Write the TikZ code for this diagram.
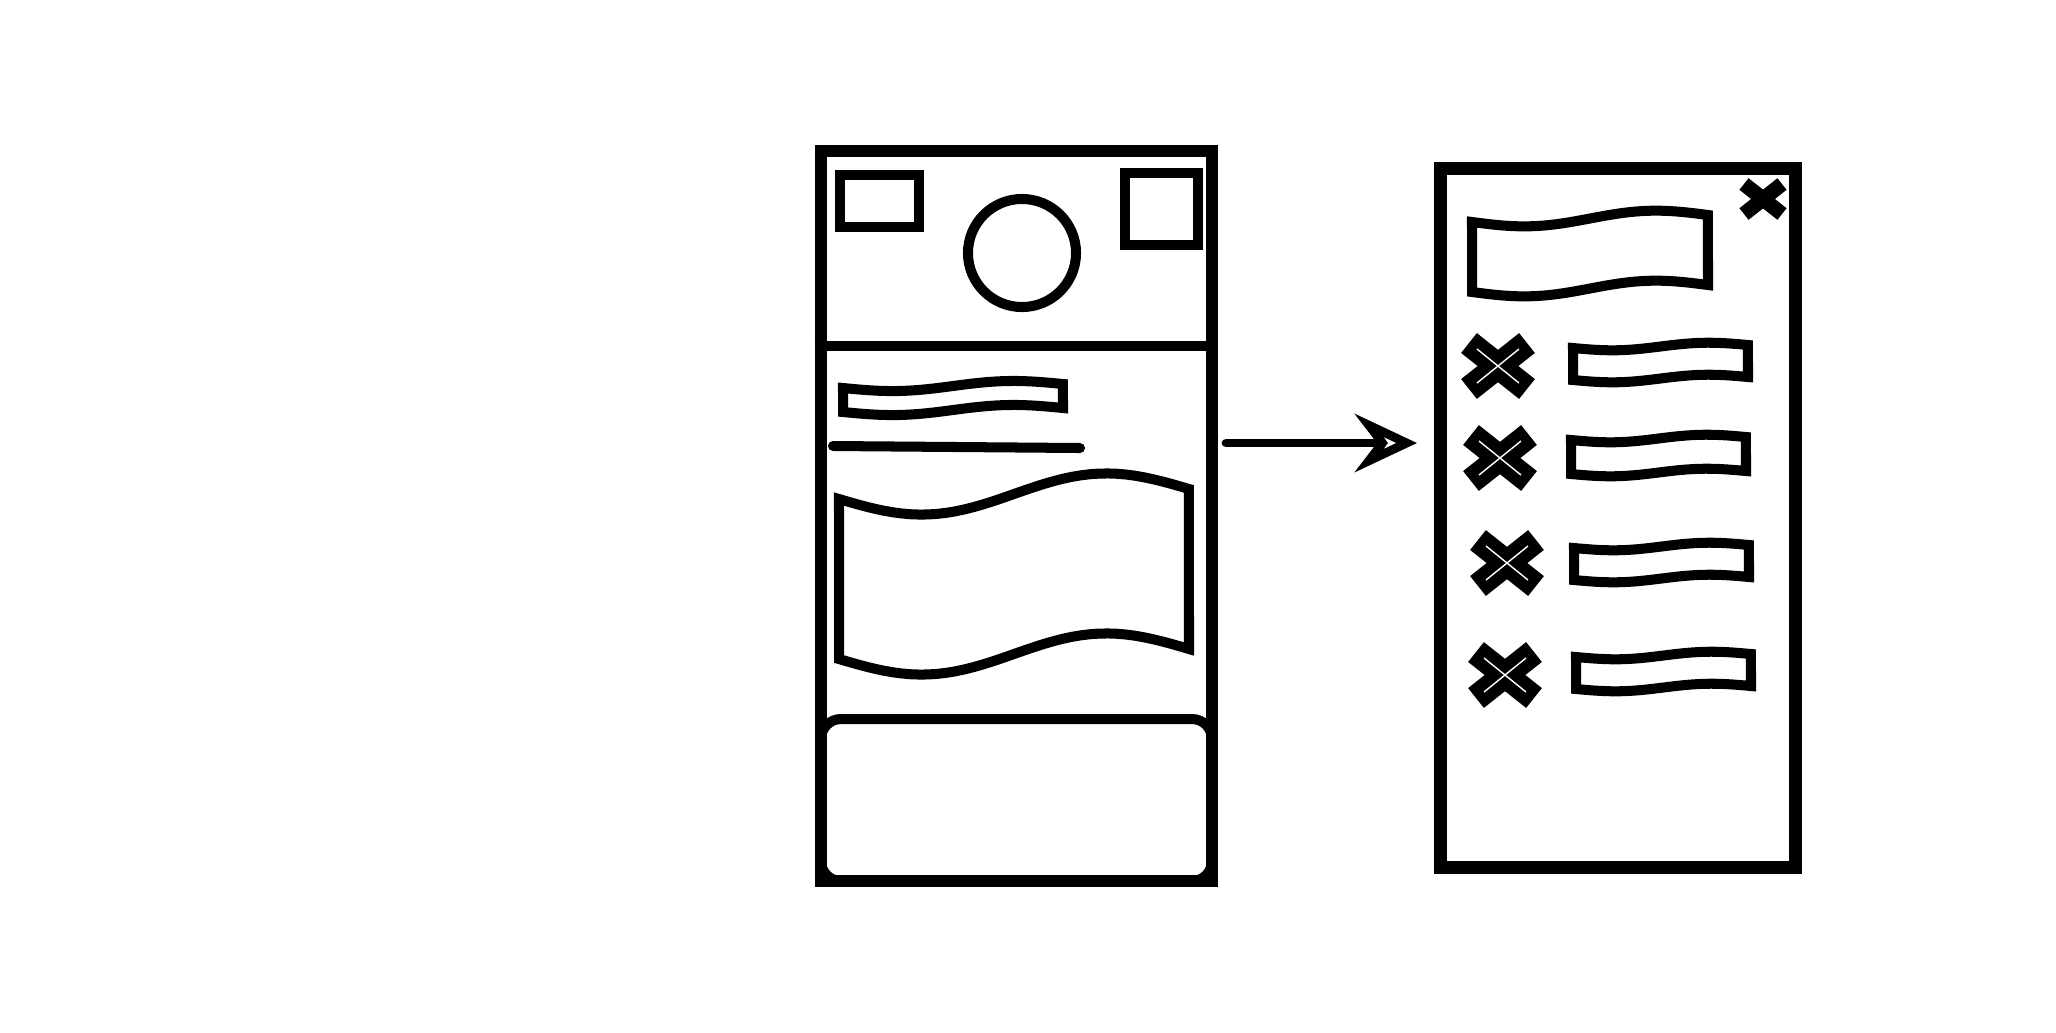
\documentclass[tikz,border=0pt]{standalone}
\usetikzlibrary{arrows.meta}

\newcommand{\wavebox}[6]{%
  \draw[band] plot[variable=\t,domain=0:1,samples=40] ({#1+#3*\t},{#2+#5*sin(360*\t)-#6*\t})
    -- plot[variable=\t,domain=1:0,samples=40] ({#1+#3*\t},{#2+#4+#5*sin(360*\t)-#6*\t}) -- cycle;}
\newcommand{\failmark}[2]{%
  \draw[line width=7.2pt] (#1-29,#2-23) -- (#1+29,#2+23) (#1-29,#2+23) -- (#1+29,#2-23);
  \draw[white,line width=0.4pt] (#1-21,#2-17) -- (#1+21,#2+17) (#1-21,#2+17) -- (#1+21,#2-17);}

\begin{document}
\begin{tikzpicture}[x=0.01cm,y=-0.01cm,
    frame/.style={draw,line width=3.4pt,inner sep=0pt},
    part/.style={draw,line width=2.85pt,inner sep=0pt},
    band/.style={line width=2.85pt},
    link/.style={line width=2.5pt,line cap=round,-{Stealth[open,length=6.2mm,width=5.8mm,inset=2.2mm]}}]
\useasboundingbox (0,0) rectangle (2056,1032);

\node[frame,minimum width=3.91cm,minimum height=7.30cm] (device) at (1016.5,516) {};
\node[part,minimum width=0.79cm,minimum height=0.52cm] (badge) at (879.5,201) {};
\node[part,circle,minimum size=1.08cm] (knob) at (1022,253) {};
\node[part,minimum width=0.73cm,minimum height=0.72cm] (slot) at (1161.5,209) {};
\draw[band] (device.west |- 0,346) -- (device.east |- 0,346);
\wavebox{843}{388}{220}{24}{4}{4}
\draw[band,line cap=round] (833,446) -- (1080,448);
\wavebox{839}{499}{350}{160}{18}{10}
\draw[band,rounded corners=0.2cm] (821,719) rectangle (1212,881);

\node[frame,line width=3.7pt,minimum width=3.54cm,minimum height=6.99cm] (popup) at (1618,518) {};
\draw[line width=4.2pt] (1744,184) -- (1782,214) (1744,214) -- (1782,184);
\wavebox{1472}{222}{236}{70}{6}{7}
\foreach \cx/\cy/\bx/\by/\bh in {1498/366/1573/348/32,1500/458/1571/440/34,1507/563/1574/548/32,1505/675/1576/657/32}{
  \failmark{\cx}{\cy}
  \wavebox{\bx}{\by}{175}{\bh}{3}{3}
}

\coordinate (tail) at (1226,443);
\coordinate (head) at (1417,443);
\draw[link] (tail) -- (head);
\end{tikzpicture}
\end{document}
